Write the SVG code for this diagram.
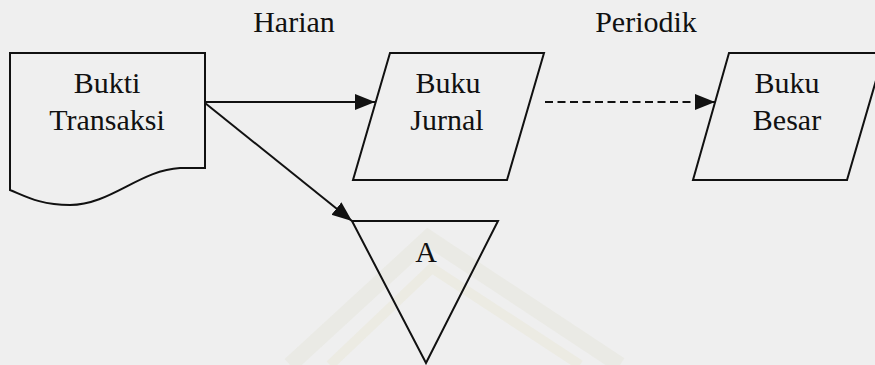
<svg xmlns="http://www.w3.org/2000/svg" width="875" height="365" viewBox="0 0 875 365">
<style>
.shape{fill:none;stroke:#111;stroke-width:2;stroke-linejoin:miter}
.lbl{font-family:"Liberation Serif","Times New Roman",serif;font-size:30px;fill:#111;text-anchor:middle}
.conn{fill:none;stroke:#111;stroke-width:2}
.dash{stroke-dasharray:8 4.5}
.wm{fill:none;stroke-linejoin:miter}
</style>
<defs>
<marker id="ah" markerUnits="userSpaceOnUse" markerWidth="22" markerHeight="18" refX="20" refY="8" orient="auto">
<path d="M0,0 L20,8 L0,16 Z" fill="#111"/>
</marker>
</defs>
<rect width="875" height="365" fill="#efefef"/>
<g id="watermark">
<polyline class="wm" points="290,365 428,238 620,365" stroke="#eaeae5" stroke-width="16"/>
<polyline class="wm" points="330,365 432,268 580,365" stroke="#ecebe3" stroke-width="10"/>
</g>
<g id="header">
<text class="lbl" x="294" y="32">Harian</text>
<text class="lbl" x="646" y="32">Periodik</text>
</g>
<g id="connectors">
<line class="conn" x1="205" y1="102" x2="375" y2="102" marker-end="url(#ah)"/>
<line class="conn dash" x1="545" y1="102" x2="715" y2="102" marker-end="url(#ah)"/>
<line class="conn" x1="205" y1="103" x2="352" y2="221" marker-end="url(#ah)"/>
</g>
<g id="bukti-transaksi">
<path class="shape" d="M10,53 H205 V168 H180 C140,170 110,205 70,205 C40,205 25,196 10,190 Z"/>
<text class="lbl" x="107" y="93">Bukti</text>
<text class="lbl" x="107" y="130">Transaksi</text>
</g>
<g id="buku-jurnal">
<polygon class="shape" points="390,53 544,53 507,180 353,180"/>
<text class="lbl" x="448" y="93">Buku</text>
<text class="lbl" x="447" y="130">Jurnal</text>
</g>
<g id="buku-besar">
<polygon class="shape" points="729,53 884,53 847,180 693,180"/>
<text class="lbl" x="787" y="93">Buku</text>
<text class="lbl" x="787" y="130">Besar</text>
</g>
<g id="A">
<polygon class="shape" points="352,221 498,221 426,363"/>
<text class="lbl" x="426" y="262">A</text>
</g>
</svg>
